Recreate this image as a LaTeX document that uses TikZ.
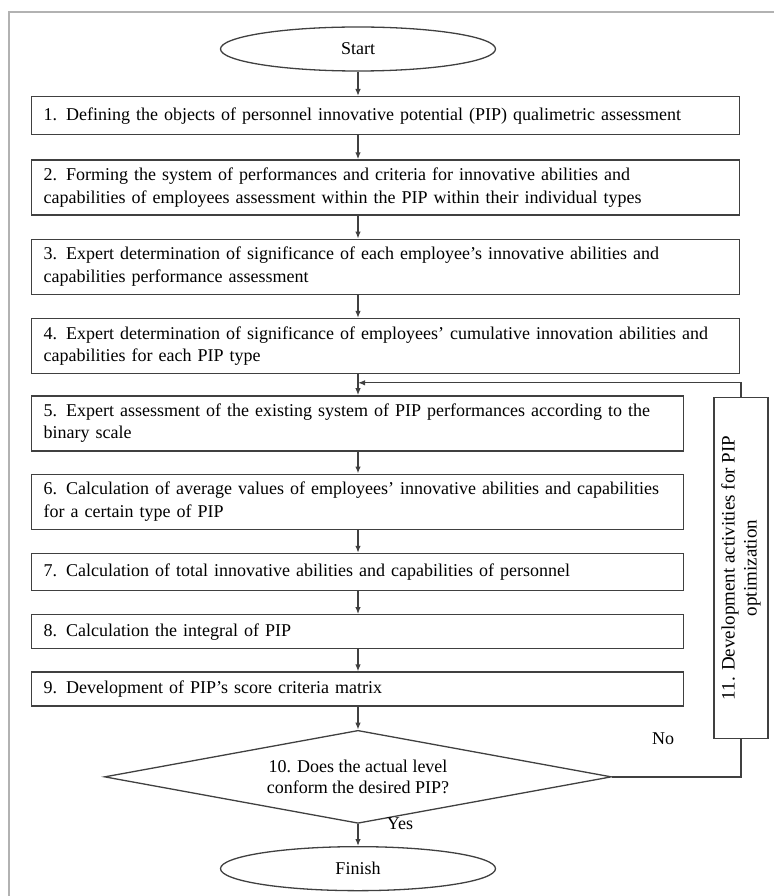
\documentclass[tikz,border=0pt]{standalone}
\usepackage{fontspec}
\setmainfont{Liberation Serif}
\usetikzlibrary{arrows.meta,positioning,shapes.geometric,calc}

\begin{document}
\begin{tikzpicture}[x=1pt, y=-1pt,
  font=\fontsize{18}{22.5}\selectfont,
  box/.style={draw=black!75, line width=1.3pt, align=left, inner xsep=12pt, inner ysep=4pt, minimum height=34pt, fill=white},
  wide/.style={box, text width=684pt},
  narrow/.style={box, text width=628pt},
  tall/.style={minimum height=55pt},
  term/.style={ellipse, draw=black!75, line width=1.3pt, minimum width=275pt, minimum height=44pt},
  decision/.style={diamond, draw=black!75, line width=1.3pt, aspect=5.45, inner sep=0pt, minimum width=507pt, minimum height=93pt, align=center, font=\fontsize{18}{21}\selectfont},
  side/.style={draw=black!75, line width=1.3pt, rotate=90, align=center, minimum width=341pt, minimum height=54pt, inner sep=2pt, font=\fontsize{19}{22}\selectfont},
  arrow/.style={-{Latex[length=7pt,width=5.5pt]}, line width=1.3pt, draw=black!75},
  line/.style={line width=1.3pt, draw=black!75},
  note/.style={inner sep=1pt}
]
\useasboundingbox (0,0) rectangle (773,896);

% outer frame
\draw[black!30, line width=2pt] (9,905) -- (9,12) -- (780,12);

\node[term] (start) at (358,49) {Start};
\node[wide, minimum height=38pt, anchor=north west] (define) at (31,96)
  {1. Defining the objects of personnel innovative potential (PIP) qualimetric assessment};
\node[wide, tall, below=24pt of define.south west, anchor=north west] (form)
  {2. Forming the system of performances and criteria for innovative abilities and\\capabilities of employees assessment within the PIP within their individual types};
\node[wide, tall, below=23pt of form.south west, anchor=north west] (signif)
  {3. Expert determination of significance of each employee’s innovative abilities and\\capabilities performance assessment};
\node[wide, tall, below=23pt of signif.south west, anchor=north west] (cumul)
  {4. Expert determination of significance of employees’ cumulative innovation abilities and\\capabilities for each PIP type};
\node[narrow, tall, below=21pt of cumul.south west, anchor=north west] (binary)
  {5. Expert assessment of the existing system of PIP performances according to the\\binary scale};
\node[narrow, tall, below=22pt of binary.south west, anchor=north west] (average)
  {6. Calculation of average values of employees’ innovative abilities and capabilities\\for a certain type of PIP};
\node[narrow, minimum height=37pt, below=23pt of average.south west, anchor=north west] (total)
  {7. Calculation of total innovative abilities and capabilities of personnel};
\node[narrow, below=23pt of total.south west, anchor=north west] (integral)
  {8. Calculation the integral of PIP};
\node[narrow, below=22pt of integral.south west, anchor=north west] (scoremat)
  {9. Development of PIP’s score criteria matrix};
\node[decision, anchor=north, yshift=-23pt] (check) at (scoremat.south -| start)
  {10. Does the actual level\\conform the desired PIP?};
\node[term, below=22pt of check] (finish) {Finish};
\node[side] (develop) at (741,568) {11. Development activities for PIP\\optimization};

\draw[arrow] (start) -- (start |- define.north);
\draw[arrow] (start |- define.south) -- (start |- form.north);
\draw[arrow] (start |- form.south) -- (start |- signif.north);
\draw[arrow] (start |- signif.south) -- (start |- cumul.north);
\draw[arrow] (start |- cumul.south) -- (start |- binary.north);
\draw[arrow] (start |- binary.south) -- (start |- average.north);
\draw[arrow] (start |- average.south) -- (start |- total.north);
\draw[arrow] (start |- total.south) -- (start |- integral.north);
\draw[arrow] (start |- integral.south) -- (start |- scoremat.north);
\draw[arrow] (start |- scoremat.south) -- (check.north);
\draw[arrow] (check) -- (finish);

% loop back
\coordinate (loop) at ($(start |- cumul.south)!0.41!(start |- binary.north)$);
\draw[line] (check.east) -| (develop.west);
\draw[arrow] (develop.east) |- (loop);

\node[note] (no) at (663,739) {No};
\node[note] (yes) at (400,824) {Yes};

\end{tikzpicture}
\end{document}
